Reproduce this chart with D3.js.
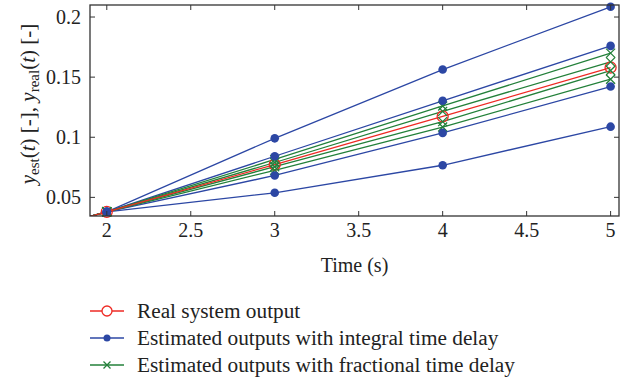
<!DOCTYPE html>
<html lang="en">
<head>
    <meta charset="UTF-8">
    <title>Output comparison</title>
    <script src="https://cdn.jsdelivr.net/npm/d3@7"></script>
    <style>
        body { margin: 0; background: #fff; }
        text { font-family: "Liberation Serif", "DejaVu Serif", serif; fill: #222; }
    </style>
</head>
<body>
    <script>
        const width = 633;
        const height = 379;

        const times = [1, 2, 3, 4, 5];
        // real system output
        const realOutput = [0.0, 0.038, 0.0773, 0.1173, 0.158];
        // estimated outputs, integral time delay
        const integralOutputs = [
            [0.0, 0.038, 0.0991, 0.1563, 0.2085],
            [0.0, 0.038, 0.0842, 0.1303, 0.176],
            [0.0, 0.038, 0.0682, 0.1036, 0.1422],
            [0.0, 0.038, 0.0538, 0.0767, 0.1088]
        ];
        // estimated outputs, fractional time delay
        const fractionalOutputs = [
            [0.0, 0.038, 0.0815, 0.126, 0.170],
            [0.0, 0.038, 0.0790, 0.1215, 0.1627],
            [0.0, 0.038, 0.0755, 0.1130, 0.1555],
            [0.0, 0.038, 0.0725, 0.1085, 0.1483]
        ];
        const xTicks = [2, 2.5, 3, 3.5, 4, 4.5, 5];
        const yTicks = [0.05, 0.1, 0.15, 0.2];
        const legendLabels = ['Real system output', 'Estimated outputs with integral time delay', 'Estimated outputs with fractional time delay'];

        const red = '#ee2a24';
        const blue = '#2c47a4';
        const green = '#23803a';

        const pLeft = 90, pRight = 619, pTop = 5, pBottom = 216;

        const svg = d3.select('body').append('svg')
            .attr('width', width).attr('height', height);

        const x = d3.scaleLinear().domain([1.9, 5.05]).range([pLeft, pRight]);
        const y = d3.scaleLinear().domain([0.0345, 0.21]).range([pBottom, pTop]);

        svg.append('clipPath').attr('id', 'plotclip')
            .append('rect').attr('x', pLeft).attr('y', pTop)
            .attr('width', pRight - pLeft).attr('height', pBottom - pTop);

        const line = d3.line().x((d, i) => x(times[i])).y(d => y(d));

        const plot = svg.append('g').attr('clip-path', 'url(#plotclip)');

        integralOutputs.forEach(s => {
            plot.append('path').attr('d', line(s)).attr('fill', 'none')
                .attr('stroke', blue).attr('stroke-width', 1.3);
        });
        fractionalOutputs.forEach(s => {
            plot.append('path').attr('d', line(s)).attr('fill', 'none')
                .attr('stroke', green).attr('stroke-width', 1.3);
        });
        plot.append('path').attr('d', line(realOutput)).attr('fill', 'none')
            .attr('stroke', red).attr('stroke-width', 1.3);

        const markers = svg.append('g');
        function cross(g, cx, cy, s, color) {
            g.append('path')
                .attr('d', `M${cx - s},${cy - s}L${cx + s},${cy + s}M${cx - s},${cy + s}L${cx + s},${cy - s}`)
                .attr('stroke', color).attr('stroke-width', 1.3).attr('fill', 'none');
        }
        function inside(i) { return times[i] >= 1.9; }

        realOutput.forEach((v, i) => {
            if (!inside(i)) return;
            markers.append('circle').attr('cx', x(times[i])).attr('cy', y(v)).attr('r', 5.5)
                .attr('fill', 'none').attr('stroke', red).attr('stroke-width', 1.3);
        });
        fractionalOutputs.forEach(s => s.forEach((v, i) => {
            if (!inside(i)) return;
            cross(markers, x(times[i]), y(v), 4.5, green);
        }));
        integralOutputs.forEach(s => s.forEach((v, i) => {
            if (!inside(i)) return;
            markers.append('circle').attr('cx', x(times[i])).attr('cy', y(v)).attr('r', 4.3)
                .attr('fill', blue);
        }));

        // axes box with inward ticks
        const axisColor = '#333';
        svg.append('rect').attr('x', pLeft).attr('y', pTop)
            .attr('width', pRight - pLeft).attr('height', pBottom - pTop)
            .attr('fill', 'none').attr('stroke', axisColor).attr('stroke-width', 1.3);

        const tickLen = 5;
        xTicks.forEach(t => {
            svg.append('line').attr('x1', x(t)).attr('x2', x(t)).attr('y1', pBottom).attr('y2', pBottom - tickLen)
                .attr('stroke', axisColor);
            svg.append('line').attr('x1', x(t)).attr('x2', x(t)).attr('y1', pTop).attr('y2', pTop + tickLen)
                .attr('stroke', axisColor);
            svg.append('text').attr('x', x(t)).attr('y', pBottom + 21)
                .attr('text-anchor', 'middle').attr('font-size', 20).text(t);
        });
        yTicks.forEach(t => {
            svg.append('line').attr('x1', pLeft).attr('x2', pLeft + tickLen).attr('y1', y(t)).attr('y2', y(t))
                .attr('stroke', axisColor);
            svg.append('line').attr('x1', pRight).attr('x2', pRight - tickLen).attr('y1', y(t)).attr('y2', y(t))
                .attr('stroke', axisColor);
            svg.append('text').attr('x', pLeft - 9).attr('y', y(t) + 7)
                .attr('text-anchor', 'end').attr('font-size', 20).text(t);
        });

        svg.append('text').attr('x', (pLeft + pRight) / 2).attr('y', 272)
            .attr('text-anchor', 'middle').attr('font-size', 20).text('Time (s)');

        // y label with subscripts
        const yl = svg.append('text').attr('transform', 'translate(35,104) rotate(-90)')
            .attr('text-anchor', 'middle').attr('font-size', 21);
        const parts = [
            ['y', 'italic', 0], ['est', 'normal', 1], ['(', 'normal', 2], ['t', 'italic', 0], [') [-], ', 'normal', 0],
            ['y', 'italic', 0], ['real', 'normal', 1], ['(', 'normal', 2], ['t', 'italic', 0], [') [-]', 'normal', 0]
        ];
        parts.forEach(p => {
            const ts = yl.append('tspan').attr('font-style', p[1]).text(p[0]);
            if (p[2] === 1) ts.attr('font-size', 15).attr('dy', 4);
            if (p[2] === 2) ts.attr('dy', -4);
        });

        // legend
        const legColors = [red, blue, green];
        legendLabels.forEach((lab, i) => {
            const ly = 311 + i * 27;
            const g = svg.append('g');
            g.append('line').attr('x1', 90).attr('x2', 124).attr('y1', ly).attr('y2', ly)
                .attr('stroke', legColors[i]).attr('stroke-width', 1.3);
            if (i === 0) {
                g.append('circle').attr('cx', 107).attr('cy', ly).attr('r', 5)
                    .attr('fill', '#fff').attr('stroke', red).attr('stroke-width', 1.3);
            } else if (i === 1) {
                g.append('circle').attr('cx', 107).attr('cy', ly).attr('r', 3.5).attr('fill', blue);
            } else {
                cross(g, 107, ly, 3.5, green);
            }
            g.append('text').attr('x', 137).attr('y', ly + 7).attr('font-size', 21.3).text(lab);
        });
    </script>
</body>
</html>
